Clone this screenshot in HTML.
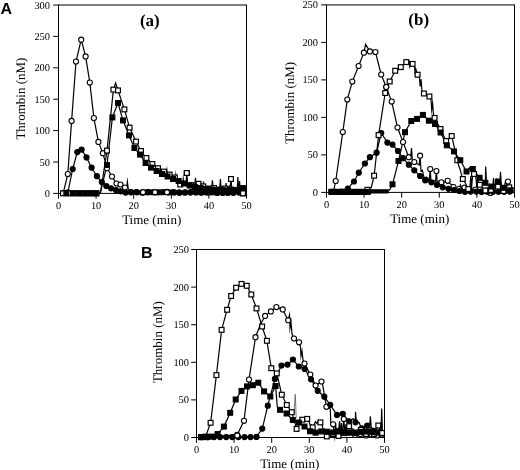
<!DOCTYPE html>
<html><head><meta charset="utf-8"><title>Thrombin generation</title>
<style>
html,body{margin:0;padding:0;background:#fff;}
body{width:520px;height:470px;overflow:hidden;font-family:"Liberation Serif",serif;}
svg{display:block;filter:blur(0.35px);}
text{fill:#000;text-rendering:geometricPrecision;}
</style></head><body>
<svg width="520" height="470" viewBox="0 0 520 470">
<rect x="0" y="0" width="520" height="470" fill="#fff"/>
<rect x="58.5" y="5" width="188" height="188.4" fill="none" stroke="#000" stroke-width="1"/>
<line x1="53.2" y1="193.4" x2="58.5" y2="193.4" stroke="#000" stroke-width="1"/>
<text x="50" y="196.9" font-family='"Liberation Serif", serif' font-size="10.4" text-anchor="end">0</text>
<line x1="53.2" y1="162" x2="58.5" y2="162" stroke="#000" stroke-width="1"/>
<text x="50" y="165.5" font-family='"Liberation Serif", serif' font-size="10.4" text-anchor="end">50</text>
<line x1="53.2" y1="130.6" x2="58.5" y2="130.6" stroke="#000" stroke-width="1"/>
<text x="50" y="134.1" font-family='"Liberation Serif", serif' font-size="10.4" text-anchor="end">100</text>
<line x1="53.2" y1="99.2" x2="58.5" y2="99.2" stroke="#000" stroke-width="1"/>
<text x="50" y="102.7" font-family='"Liberation Serif", serif' font-size="10.4" text-anchor="end">150</text>
<line x1="53.2" y1="67.8" x2="58.5" y2="67.8" stroke="#000" stroke-width="1"/>
<text x="50" y="71.3" font-family='"Liberation Serif", serif' font-size="10.4" text-anchor="end">200</text>
<line x1="53.2" y1="36.4" x2="58.5" y2="36.4" stroke="#000" stroke-width="1"/>
<text x="50" y="39.9" font-family='"Liberation Serif", serif' font-size="10.4" text-anchor="end">250</text>
<line x1="53.2" y1="5" x2="58.5" y2="5" stroke="#000" stroke-width="1"/>
<text x="50" y="8.5" font-family='"Liberation Serif", serif' font-size="10.4" text-anchor="end">300</text>
<line x1="58.5" y1="193.4" x2="58.5" y2="198.7" stroke="#000" stroke-width="1"/>
<text x="58.5" y="209.1" font-family='"Liberation Serif", serif' font-size="10.4" text-anchor="middle">0</text>
<line x1="96.1" y1="193.4" x2="96.1" y2="198.7" stroke="#000" stroke-width="1"/>
<text x="96.1" y="209.1" font-family='"Liberation Serif", serif' font-size="10.4" text-anchor="middle">10</text>
<line x1="133.7" y1="193.4" x2="133.7" y2="198.7" stroke="#000" stroke-width="1"/>
<text x="133.7" y="209.1" font-family='"Liberation Serif", serif' font-size="10.4" text-anchor="middle">20</text>
<line x1="171.3" y1="193.4" x2="171.3" y2="198.7" stroke="#000" stroke-width="1"/>
<text x="171.3" y="209.1" font-family='"Liberation Serif", serif' font-size="10.4" text-anchor="middle">30</text>
<line x1="208.9" y1="193.4" x2="208.9" y2="198.7" stroke="#000" stroke-width="1"/>
<text x="208.9" y="209.1" font-family='"Liberation Serif", serif' font-size="10.4" text-anchor="middle">40</text>
<line x1="246.5" y1="193.4" x2="246.5" y2="198.7" stroke="#000" stroke-width="1"/>
<text x="246.5" y="209.1" font-family='"Liberation Serif", serif' font-size="10.4" text-anchor="middle">50</text>
<text x="151.7" y="223.9" font-family='"Liberation Serif", serif' font-size="13" text-anchor="middle">Time (min)</text>
<text transform="translate(24.5,98.6) rotate(-90)" font-family='"Liberation Serif", serif' font-size="13" text-anchor="middle">Thrombin (nM)</text>
<text x="149.8" y="25.7" font-family='"Liberation Serif", serif' font-size="17" font-weight="bold" text-anchor="middle">(a)</text>
<polyline points="63.3,193 67.8,174 71.6,120.9 76,61.5 81.2,39.7 85.6,56.4 89.8,82.6 93.9,118.1 98.4,141.9 102.9,153.2 107,168.2 112,176.5 116.5,183.5 120.5,184.5 125,187.5 126.6,188.5 127.4,181.7 128.2,188.5 131,192.16 132.5,192.07 134,190.67 135.5,192.67 137,192.25 138.5,192.88 140,191.99 141.5,192.98 143,192.54 144.5,193.03 146,192.03 147.5,192.64 149,192.17 150.5,191.87 152,192.75 153.5,191.92 155,192.21 156.5,191.92 158,190.64 159.5,191.14 161,192.27 162.5,191.98 164,191.84 165.5,191.74 167,191.95 168.5,191.83 170,192.65 171.5,192.05 173,192.21 174.5,192.04 176,192.71 177.5,191.98 179,192.3 180.5,192.15 182,192.74 183.5,192.3 185,192.43 186.5,192.11 188,192 189.5,191.99 191,191.88 192.5,192.48 194,192.13 195.5,191.78 197,192.04 198.5,190.18 200,191.81 201.5,190.44 203,191.87 204.5,191.81 206,192.64 207.5,192.33 209,192.45 210.5,192.35 212,192.24 213.5,192.23 215,192.35 216.5,192.42 218,191.87 219.5,191.63 221,191.83 222.5,192.18 224,192.42 225.5,192.92 227,192.59 228.5,192.2 230,192.62 231.5,192.22 233,192.57 234.5,192.68 236,191.72 237.5,192.97 239,192.32" fill="none" stroke="#000" stroke-width="1.2" stroke-linejoin="miter" stroke-miterlimit="10"/>
<polyline points="63.5,193 67.9,192.3 72.7,169 77.3,152.1 81.6,149.6 86.5,157.4 91.6,167.7 96.9,176.2 101.8,182 106.3,186 111,188.3 116,190 120.8,191.3 125.6,192.59 131,192.23 132.6,192.48 134.2,191.9 135.8,192.1 136.4,192.11 138,192.53 139.6,191.98 141.2,192.56 141.8,192.52 143.4,192.33 145,191.98 146.6,192.53 147.2,192.15 148.8,192.52 150.4,192.6 152,192.19 152.6,192.25 154.2,192.77 155.8,192.29 157.4,192.75 158,192.29 159.6,192.47 161.2,192.38 162.8,191.82 163.4,192.12 165,192.82 166.6,192.66 168.2,192.77 168.8,192.47 170.4,192.51 172,192.14 173.6,192.08 174.2,192.45 175.8,192.63 177.4,192.94 179,192.95 179.6,192.77 181.2,192.55 182.8,192.17 184.4,192.35 185,192.52 186.6,191.19 188.2,192.61 189.8,192.53 190.4,192.61 192,192.38 193.6,192.95 195.2,192.99 195.8,192.5 197.4,192.72 199,192.31 200.6,193.05 201.2,192.63 202.8,192.89 204.4,192.41 206,191.81 206.6,192.47 208.2,192.24 209.8,192.61 211.4,192.25 212,192.32 213.6,193.08 215.2,192.34 216.8,191.52 217.4,192.9 219,191.83 220.6,192.81 222.2,192.52 222.8,192.9 224.4,192.18 226,191.58 227.6,192.53 228.2,192.77 229.8,191.8 231.4,192.94 233,193.09 233.6,192.67 235.2,192.86 236.8,191.77 238.4,192.37 239,192.35" fill="none" stroke="#000" stroke-width="1.2" stroke-linejoin="miter" stroke-miterlimit="10"/>
<polyline points="63,193.3 69.5,193.3 75.8,193.3 81.4,193.3 87,193.3 92.6,193.3 96.6,193.3 100.5,192.5 107,150.6 113.4,89.6 115.6,83 118,90.4 124.4,109.4 129.6,127.6 136,141.6 141,151 146.4,158 152.4,164 158,168.2 163.9,171.6 169.6,174.6 174.9,177.5 180.2,184.5 181.6,185.28 182.5,185 183.2,179 183.9,185 185.9,184.5 186.8,173 187.7,185 189.1,184.22 190.5,185.53 191.2,185.1 192.6,185.78 194,185.81 194.7,186 195.5,177.7 196.3,186 197.7,185.36 198.5,183.8 199.9,181.76 201.3,184.91 202.7,186.41 203.3,186.4 204.7,186.93 206.1,188.25 207.5,188.91 208.5,188.5 209.9,188.75 211.3,186.08 212.7,188.48 214,188 215.4,188.1 216.8,189.63 218.2,189.35 219.5,189.5 220.9,189.13 222.3,189.67 223.7,188.26 225,188.5 226.4,188.73 227.8,188.63 229.2,186.07 230.1,188.5 231,179 231.9,189 233.3,186.94 234.7,188.68 236,190 237.4,189.96 238.8,189.15 240,191 241.4,192.73 243,193.3" fill="none" stroke="#000" stroke-width="1.2" stroke-linejoin="miter" stroke-miterlimit="10"/>
<polyline points="66.3,193.3 72.9,193.3 79,193.3 84.6,193.3 90.2,193.3 95.8,193.3 100.3,193 107,165 112.4,117.4 118,103 123,120.4 129,135.4 134.4,148 140,154.6 145.6,163 151,167.6 156.6,171 162,174 166.4,176.5 167,171 167.6,176.5 167.6,176.5 169,177.97 170.4,178.62 171.8,177.78 173,179 174.4,179.47 175.2,180 175.8,175 176.4,180 177.8,180.99 178.6,181 180,182.31 181.4,182.16 182.8,183.61 184,183.5 185.4,183.71 186.8,185.35 188.2,185.26 189.6,185.5 191,184.28 192.4,186.59 193.8,183.76 195,187 196.4,187.25 197.8,187.74 199.2,188.19 200.6,188 202,186.69 202.9,188.5 203.5,181.5 204.1,188.5 206,189 207.4,189.96 208.8,189.05 210.2,188.97 211.6,189.5 211.6,189.5 212.4,180.3 213.2,189.5 214.6,190.31 216,189.98 217,190 218.4,189.69 219.6,190 220.4,179 221.2,190 222.6,190 224,190.94 225.4,190.3 226,183 226.6,190.3 228,190.5 229.4,188.04 230.8,189.67 232.2,188.06 233.6,190 235,190.05 236.4,189.8 237.1,190.3 237.9,177 238.5,190.5 238.7,190.3 239,190.5 239.6,181 240.2,190.5 241.6,188.88 243,188.1" fill="none" stroke="#000" stroke-width="1.2" stroke-linejoin="miter" stroke-miterlimit="10"/>
<circle cx="63.3" cy="193" r="2.55" fill="#fff" stroke="#000" stroke-width="1.1"/>
<circle cx="67.8" cy="174" r="2.55" fill="#fff" stroke="#000" stroke-width="1.1"/>
<circle cx="71.6" cy="120.9" r="2.55" fill="#fff" stroke="#000" stroke-width="1.1"/>
<circle cx="76" cy="61.5" r="2.55" fill="#fff" stroke="#000" stroke-width="1.1"/>
<circle cx="81.2" cy="39.7" r="2.55" fill="#fff" stroke="#000" stroke-width="1.1"/>
<circle cx="85.6" cy="56.4" r="2.55" fill="#fff" stroke="#000" stroke-width="1.1"/>
<circle cx="89.8" cy="82.6" r="2.55" fill="#fff" stroke="#000" stroke-width="1.1"/>
<circle cx="93.9" cy="118.1" r="2.55" fill="#fff" stroke="#000" stroke-width="1.1"/>
<circle cx="98.4" cy="141.9" r="2.55" fill="#fff" stroke="#000" stroke-width="1.1"/>
<circle cx="102.9" cy="153.2" r="2.55" fill="#fff" stroke="#000" stroke-width="1.1"/>
<circle cx="107" cy="168.2" r="2.55" fill="#fff" stroke="#000" stroke-width="1.1"/>
<circle cx="112" cy="176.5" r="2.55" fill="#fff" stroke="#000" stroke-width="1.1"/>
<circle cx="116.5" cy="183.5" r="2.55" fill="#fff" stroke="#000" stroke-width="1.1"/>
<circle cx="120.5" cy="184.5" r="2.55" fill="#fff" stroke="#000" stroke-width="1.1"/>
<circle cx="125" cy="187.5" r="2.55" fill="#fff" stroke="#000" stroke-width="1.1"/>
<circle cx="131" cy="192.16" r="2.55" fill="#fff" stroke="#000" stroke-width="1.1"/>
<circle cx="137" cy="192.25" r="2.55" fill="#fff" stroke="#000" stroke-width="1.1"/>
<circle cx="143" cy="192.54" r="2.55" fill="#fff" stroke="#000" stroke-width="1.1"/>
<circle cx="149" cy="192.17" r="2.55" fill="#fff" stroke="#000" stroke-width="1.1"/>
<circle cx="155" cy="192.21" r="2.55" fill="#fff" stroke="#000" stroke-width="1.1"/>
<circle cx="161" cy="192.27" r="2.55" fill="#fff" stroke="#000" stroke-width="1.1"/>
<circle cx="167" cy="191.95" r="2.55" fill="#fff" stroke="#000" stroke-width="1.1"/>
<circle cx="173" cy="192.21" r="2.55" fill="#fff" stroke="#000" stroke-width="1.1"/>
<circle cx="179" cy="192.3" r="2.55" fill="#fff" stroke="#000" stroke-width="1.1"/>
<circle cx="185" cy="192.43" r="2.55" fill="#fff" stroke="#000" stroke-width="1.1"/>
<circle cx="191" cy="191.88" r="2.55" fill="#fff" stroke="#000" stroke-width="1.1"/>
<circle cx="197" cy="192.04" r="2.55" fill="#fff" stroke="#000" stroke-width="1.1"/>
<circle cx="203" cy="191.87" r="2.55" fill="#fff" stroke="#000" stroke-width="1.1"/>
<circle cx="209" cy="192.45" r="2.55" fill="#fff" stroke="#000" stroke-width="1.1"/>
<circle cx="215" cy="192.35" r="2.55" fill="#fff" stroke="#000" stroke-width="1.1"/>
<circle cx="221" cy="191.83" r="2.55" fill="#fff" stroke="#000" stroke-width="1.1"/>
<circle cx="227" cy="192.59" r="2.55" fill="#fff" stroke="#000" stroke-width="1.1"/>
<circle cx="233" cy="192.57" r="2.55" fill="#fff" stroke="#000" stroke-width="1.1"/>
<circle cx="239" cy="192.32" r="2.55" fill="#fff" stroke="#000" stroke-width="1.1"/>
<circle cx="63.5" cy="193" r="2.55" fill="#000" stroke="#000" stroke-width="1.1"/>
<circle cx="67.9" cy="192.3" r="2.55" fill="#000" stroke="#000" stroke-width="1.1"/>
<circle cx="72.7" cy="169" r="2.55" fill="#000" stroke="#000" stroke-width="1.1"/>
<circle cx="77.3" cy="152.1" r="2.55" fill="#000" stroke="#000" stroke-width="1.1"/>
<circle cx="81.6" cy="149.6" r="2.55" fill="#000" stroke="#000" stroke-width="1.1"/>
<circle cx="86.5" cy="157.4" r="2.55" fill="#000" stroke="#000" stroke-width="1.1"/>
<circle cx="91.6" cy="167.7" r="2.55" fill="#000" stroke="#000" stroke-width="1.1"/>
<circle cx="96.9" cy="176.2" r="2.55" fill="#000" stroke="#000" stroke-width="1.1"/>
<circle cx="101.8" cy="182" r="2.55" fill="#000" stroke="#000" stroke-width="1.1"/>
<circle cx="106.3" cy="186" r="2.55" fill="#000" stroke="#000" stroke-width="1.1"/>
<circle cx="111" cy="188.3" r="2.55" fill="#000" stroke="#000" stroke-width="1.1"/>
<circle cx="116" cy="190" r="2.55" fill="#000" stroke="#000" stroke-width="1.1"/>
<circle cx="120.8" cy="191.3" r="2.55" fill="#000" stroke="#000" stroke-width="1.1"/>
<circle cx="125.6" cy="192.59" r="2.55" fill="#000" stroke="#000" stroke-width="1.1"/>
<circle cx="131" cy="192.23" r="2.55" fill="#000" stroke="#000" stroke-width="1.1"/>
<circle cx="136.4" cy="192.11" r="2.55" fill="#000" stroke="#000" stroke-width="1.1"/>
<circle cx="141.8" cy="192.52" r="2.55" fill="#000" stroke="#000" stroke-width="1.1"/>
<circle cx="147.2" cy="192.15" r="2.55" fill="#000" stroke="#000" stroke-width="1.1"/>
<circle cx="152.6" cy="192.25" r="2.55" fill="#000" stroke="#000" stroke-width="1.1"/>
<circle cx="158" cy="192.29" r="2.55" fill="#000" stroke="#000" stroke-width="1.1"/>
<circle cx="163.4" cy="192.12" r="2.55" fill="#000" stroke="#000" stroke-width="1.1"/>
<circle cx="168.8" cy="192.47" r="2.55" fill="#000" stroke="#000" stroke-width="1.1"/>
<circle cx="174.2" cy="192.45" r="2.55" fill="#000" stroke="#000" stroke-width="1.1"/>
<circle cx="179.6" cy="192.77" r="2.55" fill="#000" stroke="#000" stroke-width="1.1"/>
<circle cx="185" cy="192.52" r="2.55" fill="#000" stroke="#000" stroke-width="1.1"/>
<circle cx="190.4" cy="192.61" r="2.55" fill="#000" stroke="#000" stroke-width="1.1"/>
<circle cx="195.8" cy="192.5" r="2.55" fill="#000" stroke="#000" stroke-width="1.1"/>
<circle cx="201.2" cy="192.63" r="2.55" fill="#000" stroke="#000" stroke-width="1.1"/>
<circle cx="206.6" cy="192.47" r="2.55" fill="#000" stroke="#000" stroke-width="1.1"/>
<circle cx="212" cy="192.32" r="2.55" fill="#000" stroke="#000" stroke-width="1.1"/>
<circle cx="217.4" cy="192.9" r="2.55" fill="#000" stroke="#000" stroke-width="1.1"/>
<circle cx="222.8" cy="192.9" r="2.55" fill="#000" stroke="#000" stroke-width="1.1"/>
<circle cx="228.2" cy="192.77" r="2.55" fill="#000" stroke="#000" stroke-width="1.1"/>
<circle cx="233.6" cy="192.67" r="2.55" fill="#000" stroke="#000" stroke-width="1.1"/>
<circle cx="239" cy="192.35" r="2.55" fill="#000" stroke="#000" stroke-width="1.1"/>
<rect x="60.6" y="190.9" width="4.8" height="4.8" fill="#fff" stroke="#000" stroke-width="1.2"/>
<rect x="67.1" y="190.9" width="4.8" height="4.8" fill="#fff" stroke="#000" stroke-width="1.2"/>
<rect x="73.4" y="190.9" width="4.8" height="4.8" fill="#fff" stroke="#000" stroke-width="1.2"/>
<rect x="79" y="190.9" width="4.8" height="4.8" fill="#fff" stroke="#000" stroke-width="1.2"/>
<rect x="84.6" y="190.9" width="4.8" height="4.8" fill="#fff" stroke="#000" stroke-width="1.2"/>
<rect x="90.2" y="190.9" width="4.8" height="4.8" fill="#fff" stroke="#000" stroke-width="1.2"/>
<rect x="94.2" y="190.9" width="4.8" height="4.8" fill="#fff" stroke="#000" stroke-width="1.2"/>
<rect x="104.6" y="148.2" width="4.8" height="4.8" fill="#fff" stroke="#000" stroke-width="1.2"/>
<rect x="111" y="87.2" width="4.8" height="4.8" fill="#fff" stroke="#000" stroke-width="1.2"/>
<rect x="115.6" y="88" width="4.8" height="4.8" fill="#fff" stroke="#000" stroke-width="1.2"/>
<rect x="122" y="107" width="4.8" height="4.8" fill="#fff" stroke="#000" stroke-width="1.2"/>
<rect x="127.2" y="125.2" width="4.8" height="4.8" fill="#fff" stroke="#000" stroke-width="1.2"/>
<rect x="133.6" y="139.2" width="4.8" height="4.8" fill="#fff" stroke="#000" stroke-width="1.2"/>
<rect x="138.6" y="148.6" width="4.8" height="4.8" fill="#fff" stroke="#000" stroke-width="1.2"/>
<rect x="144" y="155.6" width="4.8" height="4.8" fill="#fff" stroke="#000" stroke-width="1.2"/>
<rect x="150" y="161.6" width="4.8" height="4.8" fill="#fff" stroke="#000" stroke-width="1.2"/>
<rect x="155.6" y="165.8" width="4.8" height="4.8" fill="#fff" stroke="#000" stroke-width="1.2"/>
<rect x="161.5" y="169.2" width="4.8" height="4.8" fill="#fff" stroke="#000" stroke-width="1.2"/>
<rect x="167.2" y="172.2" width="4.8" height="4.8" fill="#fff" stroke="#000" stroke-width="1.2"/>
<rect x="172.5" y="175.1" width="4.8" height="4.8" fill="#fff" stroke="#000" stroke-width="1.2"/>
<rect x="177.8" y="182.1" width="4.8" height="4.8" fill="#fff" stroke="#000" stroke-width="1.2"/>
<rect x="184.4" y="170.6" width="4.8" height="4.8" fill="#fff" stroke="#000" stroke-width="1.2"/>
<rect x="188.8" y="182.7" width="4.8" height="4.8" fill="#fff" stroke="#000" stroke-width="1.2"/>
<rect x="196.1" y="181.4" width="4.8" height="4.8" fill="#fff" stroke="#000" stroke-width="1.2"/>
<rect x="200.9" y="184" width="4.8" height="4.8" fill="#fff" stroke="#000" stroke-width="1.2"/>
<rect x="206.1" y="186.1" width="4.8" height="4.8" fill="#fff" stroke="#000" stroke-width="1.2"/>
<rect x="211.6" y="185.6" width="4.8" height="4.8" fill="#fff" stroke="#000" stroke-width="1.2"/>
<rect x="217.1" y="187.1" width="4.8" height="4.8" fill="#fff" stroke="#000" stroke-width="1.2"/>
<rect x="222.6" y="186.1" width="4.8" height="4.8" fill="#fff" stroke="#000" stroke-width="1.2"/>
<rect x="228.6" y="176.6" width="4.8" height="4.8" fill="#fff" stroke="#000" stroke-width="1.2"/>
<rect x="233.6" y="187.6" width="4.8" height="4.8" fill="#fff" stroke="#000" stroke-width="1.2"/>
<rect x="237.6" y="188.6" width="4.8" height="4.8" fill="#fff" stroke="#000" stroke-width="1.2"/>
<rect x="240.6" y="190.9" width="4.8" height="4.8" fill="#fff" stroke="#000" stroke-width="1.2"/>
<rect x="63.9" y="190.9" width="4.8" height="4.8" fill="#000" stroke="#000" stroke-width="1.2"/>
<rect x="70.5" y="190.9" width="4.8" height="4.8" fill="#000" stroke="#000" stroke-width="1.2"/>
<rect x="76.6" y="190.9" width="4.8" height="4.8" fill="#000" stroke="#000" stroke-width="1.2"/>
<rect x="82.2" y="190.9" width="4.8" height="4.8" fill="#000" stroke="#000" stroke-width="1.2"/>
<rect x="87.8" y="190.9" width="4.8" height="4.8" fill="#000" stroke="#000" stroke-width="1.2"/>
<rect x="93.4" y="190.9" width="4.8" height="4.8" fill="#000" stroke="#000" stroke-width="1.2"/>
<rect x="104.6" y="162.6" width="4.8" height="4.8" fill="#000" stroke="#000" stroke-width="1.2"/>
<rect x="110" y="115" width="4.8" height="4.8" fill="#000" stroke="#000" stroke-width="1.2"/>
<rect x="115.6" y="100.6" width="4.8" height="4.8" fill="#000" stroke="#000" stroke-width="1.2"/>
<rect x="120.6" y="118" width="4.8" height="4.8" fill="#000" stroke="#000" stroke-width="1.2"/>
<rect x="126.6" y="133" width="4.8" height="4.8" fill="#000" stroke="#000" stroke-width="1.2"/>
<rect x="132" y="145.6" width="4.8" height="4.8" fill="#000" stroke="#000" stroke-width="1.2"/>
<rect x="137.6" y="152.2" width="4.8" height="4.8" fill="#000" stroke="#000" stroke-width="1.2"/>
<rect x="143.2" y="160.6" width="4.8" height="4.8" fill="#000" stroke="#000" stroke-width="1.2"/>
<rect x="148.6" y="165.2" width="4.8" height="4.8" fill="#000" stroke="#000" stroke-width="1.2"/>
<rect x="154.2" y="168.6" width="4.8" height="4.8" fill="#000" stroke="#000" stroke-width="1.2"/>
<rect x="159.6" y="171.6" width="4.8" height="4.8" fill="#000" stroke="#000" stroke-width="1.2"/>
<rect x="165.2" y="174.1" width="4.8" height="4.8" fill="#000" stroke="#000" stroke-width="1.2"/>
<rect x="170.6" y="176.6" width="4.8" height="4.8" fill="#000" stroke="#000" stroke-width="1.2"/>
<rect x="176.2" y="178.6" width="4.8" height="4.8" fill="#000" stroke="#000" stroke-width="1.2"/>
<rect x="181.6" y="181.1" width="4.8" height="4.8" fill="#000" stroke="#000" stroke-width="1.2"/>
<rect x="187.2" y="183.1" width="4.8" height="4.8" fill="#000" stroke="#000" stroke-width="1.2"/>
<rect x="192.6" y="184.6" width="4.8" height="4.8" fill="#000" stroke="#000" stroke-width="1.2"/>
<rect x="198.2" y="185.6" width="4.8" height="4.8" fill="#000" stroke="#000" stroke-width="1.2"/>
<rect x="203.6" y="186.6" width="4.8" height="4.8" fill="#000" stroke="#000" stroke-width="1.2"/>
<rect x="209.2" y="187.1" width="4.8" height="4.8" fill="#000" stroke="#000" stroke-width="1.2"/>
<rect x="214.6" y="187.6" width="4.8" height="4.8" fill="#000" stroke="#000" stroke-width="1.2"/>
<rect x="220.2" y="187.6" width="4.8" height="4.8" fill="#000" stroke="#000" stroke-width="1.2"/>
<rect x="225.6" y="188.1" width="4.8" height="4.8" fill="#000" stroke="#000" stroke-width="1.2"/>
<rect x="231.2" y="187.6" width="4.8" height="4.8" fill="#000" stroke="#000" stroke-width="1.2"/>
<rect x="236.1" y="188.1" width="4.8" height="4.8" fill="#000" stroke="#000" stroke-width="1.2"/>
<rect x="240.6" y="185.7" width="4.8" height="4.8" fill="#000" stroke="#000" stroke-width="1.2"/>
<circle cx="143" cy="192.2" r="2.55" fill="#fff" stroke="#000" stroke-width="1.1"/>
<circle cx="155" cy="192.3" r="2.55" fill="#fff" stroke="#000" stroke-width="1.1"/>
<circle cx="167" cy="192.2" r="2.55" fill="#fff" stroke="#000" stroke-width="1.1"/>
<rect x="184.4" y="170.6" width="4.8" height="4.8" fill="#fff" stroke="#000" stroke-width="1.2"/>
<rect x="228.6" y="176.6" width="4.8" height="4.8" fill="#fff" stroke="#000" stroke-width="1.2"/>
<rect x="240.6" y="190.9" width="4.8" height="4.8" fill="#fff" stroke="#000" stroke-width="1.2"/>
<rect x="326.5" y="4.9" width="188" height="187.5" fill="none" stroke="#000" stroke-width="1"/>
<line x1="321.2" y1="192.4" x2="326.5" y2="192.4" stroke="#000" stroke-width="1"/>
<text x="318" y="195.9" font-family='"Liberation Serif", serif' font-size="10.4" text-anchor="end">0</text>
<line x1="321.2" y1="154.9" x2="326.5" y2="154.9" stroke="#000" stroke-width="1"/>
<text x="318" y="158.4" font-family='"Liberation Serif", serif' font-size="10.4" text-anchor="end">50</text>
<line x1="321.2" y1="117.4" x2="326.5" y2="117.4" stroke="#000" stroke-width="1"/>
<text x="318" y="120.9" font-family='"Liberation Serif", serif' font-size="10.4" text-anchor="end">100</text>
<line x1="321.2" y1="79.9" x2="326.5" y2="79.9" stroke="#000" stroke-width="1"/>
<text x="318" y="83.4" font-family='"Liberation Serif", serif' font-size="10.4" text-anchor="end">150</text>
<line x1="321.2" y1="42.4" x2="326.5" y2="42.4" stroke="#000" stroke-width="1"/>
<text x="318" y="45.9" font-family='"Liberation Serif", serif' font-size="10.4" text-anchor="end">200</text>
<line x1="321.2" y1="4.9" x2="326.5" y2="4.9" stroke="#000" stroke-width="1"/>
<text x="318" y="8.4" font-family='"Liberation Serif", serif' font-size="10.4" text-anchor="end">250</text>
<line x1="326.5" y1="192.4" x2="326.5" y2="197.7" stroke="#000" stroke-width="1"/>
<text x="326.5" y="208.1" font-family='"Liberation Serif", serif' font-size="10.4" text-anchor="middle">0</text>
<line x1="364.1" y1="192.4" x2="364.1" y2="197.7" stroke="#000" stroke-width="1"/>
<text x="364.1" y="208.1" font-family='"Liberation Serif", serif' font-size="10.4" text-anchor="middle">10</text>
<line x1="401.7" y1="192.4" x2="401.7" y2="197.7" stroke="#000" stroke-width="1"/>
<text x="401.7" y="208.1" font-family='"Liberation Serif", serif' font-size="10.4" text-anchor="middle">20</text>
<line x1="439.3" y1="192.4" x2="439.3" y2="197.7" stroke="#000" stroke-width="1"/>
<text x="439.3" y="208.1" font-family='"Liberation Serif", serif' font-size="10.4" text-anchor="middle">30</text>
<line x1="476.9" y1="192.4" x2="476.9" y2="197.7" stroke="#000" stroke-width="1"/>
<text x="476.9" y="208.1" font-family='"Liberation Serif", serif' font-size="10.4" text-anchor="middle">40</text>
<line x1="514.5" y1="192.4" x2="514.5" y2="197.7" stroke="#000" stroke-width="1"/>
<text x="514.5" y="208.1" font-family='"Liberation Serif", serif' font-size="10.4" text-anchor="middle">50</text>
<text x="419.7" y="222.9" font-family='"Liberation Serif", serif' font-size="13" text-anchor="middle">Time (min)</text>
<text transform="translate(293.8,102.85) rotate(-90)" font-family='"Liberation Serif", serif' font-size="13" text-anchor="middle">Thrombin (nM)</text>
<text x="418.7" y="24.5" font-family='"Liberation Serif", serif' font-size="17" font-weight="bold" text-anchor="middle">(b)</text>
<polyline points="331.8,191.9 333.6,191 335.7,181 342.8,132.1 347.3,99.6 352.3,81.6 358.6,66 363.9,52.7 365.6,44.4 369.9,51.4 375.4,52 381.2,74.5 386.2,87 391.7,101.6 397.5,127.5 403,142 408.8,157.2 410.6,158 411.5,148 412.3,160 414.3,162 419.2,165 420.1,155.7 421,171 422.4,170.18 423.8,176.82 425.1,180.3 426.5,177.3 427.9,179.72 429.4,180 430.2,169 431,181 432.4,181.04 433.8,180.45 435.2,181.57 435.6,181 436.4,171 437.2,182 438.6,181.3 440,183.22 441.4,182.3 442.8,181.4 444.2,182.35 445.6,181.87 447,180.68 447.7,180.8 449.1,182.15 450.5,184.02 451.9,184.78 453.5,187 454.9,186.69 456.3,189.2 457.7,187.92 459,189 460.4,184.81 461.8,188.97 463.2,187.99 464.5,187.5 465.9,188.32 467.3,188.25 468.7,190.68 470,190.5 471.4,188.43 472.8,190 474.2,189.08 475.5,189.5 476.9,189.24 478.3,191.32 479.7,191.95 481,191.5 482.4,191.25 483.8,191.2 485.2,191.55 486.5,190.5 487.9,187.75 489.3,193.05 490.4,193 491.8,192.27 493.2,192.47 494.6,191.51 496,190.04 497,189.5 498.4,189.1 499.8,190.15 501.2,188.84 502.5,190.5 503.9,188.68 505.3,182.19 506.7,183.58 508,181.6 509.4,184.88 510.8,187.46 512,190" fill="none" stroke="#000" stroke-width="1.2" stroke-linejoin="miter" stroke-miterlimit="10"/>
<polyline points="331.8,191.9 335.5,191.9 341.5,191.6 347.8,188.5 354,181.5 358.8,172.7 364.9,163.5 369.9,157.2 376.6,152.7 381.2,133 387.4,142.6 392.5,144.6 398,151 403,158.2 408.8,164.7 414.3,170.3 420.1,176 425.9,179.8 431.4,182.3 436.9,184.8 442.7,187.3 448.5,188.8 450.1,189.39 451.7,189.86 453.3,189.47 454,190 455.6,190.63 457.2,190.58 458.8,190.58 459.5,191 461.1,190.93 462.7,191.98 464.3,191.81 465,191.81 466.6,191.92 468.2,191.93 469.8,191.31 470.6,191.6 472.2,191.95 473.8,190.18 475.4,190.86 476.2,191.56 477.8,190.89 479.4,191.37 481,191.81 481.8,191.82 483.4,192 485,191.67 486.6,191.92 487.4,191.75 489,192.05 490.6,191.34 492.2,191.35 493,191.7 494.6,190.58 496.2,192.22 497.8,191.38 498.6,191.73 500.2,192.3 501.8,190.43 503.4,191.89 504.2,191.82 505.8,191.58 507.4,192.19 509,191.64 509.8,191.53" fill="none" stroke="#000" stroke-width="1.2" stroke-linejoin="miter" stroke-miterlimit="10"/>
<polyline points="331.5,191.9 337.5,191.9 343.5,191.9 349.5,191.9 355.5,191.9 361.5,191.9 367.4,189.8 371.3,187.5 374.1,175.7 378.6,135.1 385.2,93 389.7,81.5 395.2,70.8 400.8,67.1 406.3,62.1 409,61 409.6,66 410.3,62.5 412.6,63.9 414.5,66 415,72 415.8,69 417.6,74.7 419.3,76.5 420.2,86.5 421,79 422,91 423.9,93.5 429.4,96.5 431,99 431.7,109.5 432.6,103 433.6,116 434.6,117.9 440.5,129 446.1,141 451.7,136 457.3,160.2 458.7,165.82 460.1,169.2 461.5,174.67 462.8,179 464.2,181.23 465.6,183.54 467,187.17 468.3,189 470,186 470.8,176 471.6,188 472.6,175 474,174 476,178 476.8,188 477.8,177 478.6,186 479.8,184.8 481.2,185.95 482.6,187.69 484,189.34 485.4,190.5 486.8,191.48 488.2,189.93 489.6,184.77 491,190 492.4,189.77 493.8,188.38 495.2,188.29 496.6,187.75 498,186.6 499.4,187.3 500.8,182.96 502.2,190.92 503.5,191 504.9,189.73 506.3,186.63 507.7,187.68 509.2,187.3" fill="none" stroke="#000" stroke-width="1.2" stroke-linejoin="miter" stroke-miterlimit="10"/>
<polyline points="331.5,191.9 336.7,191.9 341.9,191.9 347.1,191.9 352.3,191.9 357.5,191.9 362.7,191.9 367.9,191.9 387.5,191.6 390,189.3 392.5,184.3 398.5,161 405,132.2 411.3,121 417.1,118.9 422.9,114.9 428.9,120.7 435,124 440.6,132.5 446.8,145.3 454,151.4 460.3,160.2 466.5,171.5 467.9,170.29 469.3,167.68 470.7,170.3 472.1,169.43 472.8,169 474.2,169.44 475.6,173.5 477,173.96 478.4,176.69 479.6,177.8 481,178.67 482.4,180 483.8,181.46 484.9,182.5 485.4,182.8 485.7,166.5 486.5,182.5 487.9,184.8 489.3,185.05 490.7,186.92 491.6,186.6 492.9,186 493.5,178 494.1,186 495.5,184.32 496.9,179.26 497.9,181.6 499.7,185 500.5,171.9 501.3,185 502.7,186.02 504.2,187.8 505.6,188.73 506.4,189 507,180 507.6,189 509,189.43 510.5,190.3" fill="none" stroke="#000" stroke-width="1.2" stroke-linejoin="miter" stroke-miterlimit="10"/>
<circle cx="331.8" cy="191.9" r="2.55" fill="#fff" stroke="#000" stroke-width="1.1"/>
<circle cx="335.7" cy="181" r="2.55" fill="#fff" stroke="#000" stroke-width="1.1"/>
<circle cx="342.8" cy="132.1" r="2.55" fill="#fff" stroke="#000" stroke-width="1.1"/>
<circle cx="347.3" cy="99.6" r="2.55" fill="#fff" stroke="#000" stroke-width="1.1"/>
<circle cx="352.3" cy="81.6" r="2.55" fill="#fff" stroke="#000" stroke-width="1.1"/>
<circle cx="358.6" cy="66" r="2.55" fill="#fff" stroke="#000" stroke-width="1.1"/>
<circle cx="363.9" cy="52.7" r="2.55" fill="#fff" stroke="#000" stroke-width="1.1"/>
<circle cx="369.9" cy="51.4" r="2.55" fill="#fff" stroke="#000" stroke-width="1.1"/>
<circle cx="375.4" cy="52" r="2.55" fill="#fff" stroke="#000" stroke-width="1.1"/>
<circle cx="381.2" cy="74.5" r="2.55" fill="#fff" stroke="#000" stroke-width="1.1"/>
<circle cx="386.2" cy="87" r="2.55" fill="#fff" stroke="#000" stroke-width="1.1"/>
<circle cx="391.7" cy="101.6" r="2.55" fill="#fff" stroke="#000" stroke-width="1.1"/>
<circle cx="397.5" cy="127.5" r="2.55" fill="#fff" stroke="#000" stroke-width="1.1"/>
<circle cx="403" cy="142" r="2.55" fill="#fff" stroke="#000" stroke-width="1.1"/>
<circle cx="408.8" cy="157.2" r="2.55" fill="#fff" stroke="#000" stroke-width="1.1"/>
<circle cx="414.3" cy="162" r="2.55" fill="#fff" stroke="#000" stroke-width="1.1"/>
<circle cx="420.1" cy="155.7" r="2.55" fill="#fff" stroke="#000" stroke-width="1.1"/>
<circle cx="425.1" cy="180.3" r="2.55" fill="#fff" stroke="#000" stroke-width="1.1"/>
<circle cx="430.2" cy="169" r="2.55" fill="#fff" stroke="#000" stroke-width="1.1"/>
<circle cx="436.4" cy="171" r="2.55" fill="#fff" stroke="#000" stroke-width="1.1"/>
<circle cx="441.4" cy="182.3" r="2.55" fill="#fff" stroke="#000" stroke-width="1.1"/>
<circle cx="447.7" cy="180.8" r="2.55" fill="#fff" stroke="#000" stroke-width="1.1"/>
<circle cx="453.5" cy="187" r="2.55" fill="#fff" stroke="#000" stroke-width="1.1"/>
<circle cx="459" cy="189" r="2.55" fill="#fff" stroke="#000" stroke-width="1.1"/>
<circle cx="464.5" cy="187.5" r="2.55" fill="#fff" stroke="#000" stroke-width="1.1"/>
<circle cx="470" cy="190.5" r="2.55" fill="#fff" stroke="#000" stroke-width="1.1"/>
<circle cx="475.5" cy="189.5" r="2.55" fill="#fff" stroke="#000" stroke-width="1.1"/>
<circle cx="481" cy="191.5" r="2.55" fill="#fff" stroke="#000" stroke-width="1.1"/>
<circle cx="486.5" cy="190.5" r="2.55" fill="#fff" stroke="#000" stroke-width="1.1"/>
<circle cx="490.4" cy="193" r="2.55" fill="#fff" stroke="#000" stroke-width="1.1"/>
<circle cx="497" cy="189.5" r="2.55" fill="#fff" stroke="#000" stroke-width="1.1"/>
<circle cx="502.5" cy="190.5" r="2.55" fill="#fff" stroke="#000" stroke-width="1.1"/>
<circle cx="508" cy="181.6" r="2.55" fill="#fff" stroke="#000" stroke-width="1.1"/>
<circle cx="512" cy="190" r="2.55" fill="#fff" stroke="#000" stroke-width="1.1"/>
<circle cx="331.8" cy="191.9" r="2.55" fill="#000" stroke="#000" stroke-width="1.1"/>
<circle cx="335.5" cy="191.9" r="2.55" fill="#000" stroke="#000" stroke-width="1.1"/>
<circle cx="341.5" cy="191.6" r="2.55" fill="#000" stroke="#000" stroke-width="1.1"/>
<circle cx="347.8" cy="188.5" r="2.55" fill="#000" stroke="#000" stroke-width="1.1"/>
<circle cx="354" cy="181.5" r="2.55" fill="#000" stroke="#000" stroke-width="1.1"/>
<circle cx="358.8" cy="172.7" r="2.55" fill="#000" stroke="#000" stroke-width="1.1"/>
<circle cx="364.9" cy="163.5" r="2.55" fill="#000" stroke="#000" stroke-width="1.1"/>
<circle cx="369.9" cy="157.2" r="2.55" fill="#000" stroke="#000" stroke-width="1.1"/>
<circle cx="376.6" cy="152.7" r="2.55" fill="#000" stroke="#000" stroke-width="1.1"/>
<circle cx="381.2" cy="133" r="2.55" fill="#000" stroke="#000" stroke-width="1.1"/>
<circle cx="387.4" cy="142.6" r="2.55" fill="#000" stroke="#000" stroke-width="1.1"/>
<circle cx="392.5" cy="144.6" r="2.55" fill="#000" stroke="#000" stroke-width="1.1"/>
<circle cx="398" cy="151" r="2.55" fill="#000" stroke="#000" stroke-width="1.1"/>
<circle cx="403" cy="158.2" r="2.55" fill="#000" stroke="#000" stroke-width="1.1"/>
<circle cx="408.8" cy="164.7" r="2.55" fill="#000" stroke="#000" stroke-width="1.1"/>
<circle cx="414.3" cy="170.3" r="2.55" fill="#000" stroke="#000" stroke-width="1.1"/>
<circle cx="420.1" cy="176" r="2.55" fill="#000" stroke="#000" stroke-width="1.1"/>
<circle cx="425.9" cy="179.8" r="2.55" fill="#000" stroke="#000" stroke-width="1.1"/>
<circle cx="431.4" cy="182.3" r="2.55" fill="#000" stroke="#000" stroke-width="1.1"/>
<circle cx="436.9" cy="184.8" r="2.55" fill="#000" stroke="#000" stroke-width="1.1"/>
<circle cx="442.7" cy="187.3" r="2.55" fill="#000" stroke="#000" stroke-width="1.1"/>
<circle cx="448.5" cy="188.8" r="2.55" fill="#000" stroke="#000" stroke-width="1.1"/>
<circle cx="454" cy="190" r="2.55" fill="#000" stroke="#000" stroke-width="1.1"/>
<circle cx="459.5" cy="191" r="2.55" fill="#000" stroke="#000" stroke-width="1.1"/>
<circle cx="465" cy="191.81" r="2.55" fill="#000" stroke="#000" stroke-width="1.1"/>
<circle cx="470.6" cy="191.6" r="2.55" fill="#000" stroke="#000" stroke-width="1.1"/>
<circle cx="476.2" cy="191.56" r="2.55" fill="#000" stroke="#000" stroke-width="1.1"/>
<circle cx="481.8" cy="191.82" r="2.55" fill="#000" stroke="#000" stroke-width="1.1"/>
<circle cx="487.4" cy="191.75" r="2.55" fill="#000" stroke="#000" stroke-width="1.1"/>
<circle cx="493" cy="191.7" r="2.55" fill="#000" stroke="#000" stroke-width="1.1"/>
<circle cx="498.6" cy="191.73" r="2.55" fill="#000" stroke="#000" stroke-width="1.1"/>
<circle cx="504.2" cy="191.82" r="2.55" fill="#000" stroke="#000" stroke-width="1.1"/>
<circle cx="509.8" cy="191.53" r="2.55" fill="#000" stroke="#000" stroke-width="1.1"/>
<rect x="329.1" y="189.5" width="4.8" height="4.8" fill="#fff" stroke="#000" stroke-width="1.2"/>
<rect x="335.1" y="189.5" width="4.8" height="4.8" fill="#fff" stroke="#000" stroke-width="1.2"/>
<rect x="341.1" y="189.5" width="4.8" height="4.8" fill="#fff" stroke="#000" stroke-width="1.2"/>
<rect x="347.1" y="189.5" width="4.8" height="4.8" fill="#fff" stroke="#000" stroke-width="1.2"/>
<rect x="353.1" y="189.5" width="4.8" height="4.8" fill="#fff" stroke="#000" stroke-width="1.2"/>
<rect x="359.1" y="189.5" width="4.8" height="4.8" fill="#fff" stroke="#000" stroke-width="1.2"/>
<rect x="365" y="187.4" width="4.8" height="4.8" fill="#fff" stroke="#000" stroke-width="1.2"/>
<rect x="371.7" y="173.3" width="4.8" height="4.8" fill="#fff" stroke="#000" stroke-width="1.2"/>
<rect x="376.2" y="132.7" width="4.8" height="4.8" fill="#fff" stroke="#000" stroke-width="1.2"/>
<rect x="382.8" y="90.6" width="4.8" height="4.8" fill="#fff" stroke="#000" stroke-width="1.2"/>
<rect x="387.3" y="79.1" width="4.8" height="4.8" fill="#fff" stroke="#000" stroke-width="1.2"/>
<rect x="392.8" y="68.4" width="4.8" height="4.8" fill="#fff" stroke="#000" stroke-width="1.2"/>
<rect x="398.4" y="64.7" width="4.8" height="4.8" fill="#fff" stroke="#000" stroke-width="1.2"/>
<rect x="403.9" y="59.7" width="4.8" height="4.8" fill="#fff" stroke="#000" stroke-width="1.2"/>
<rect x="410.2" y="61.5" width="4.8" height="4.8" fill="#fff" stroke="#000" stroke-width="1.2"/>
<rect x="415.2" y="72.3" width="4.8" height="4.8" fill="#fff" stroke="#000" stroke-width="1.2"/>
<rect x="421.5" y="91.1" width="4.8" height="4.8" fill="#fff" stroke="#000" stroke-width="1.2"/>
<rect x="427" y="94.1" width="4.8" height="4.8" fill="#fff" stroke="#000" stroke-width="1.2"/>
<rect x="432.2" y="115.5" width="4.8" height="4.8" fill="#fff" stroke="#000" stroke-width="1.2"/>
<rect x="438.1" y="126.6" width="4.8" height="4.8" fill="#fff" stroke="#000" stroke-width="1.2"/>
<rect x="443.7" y="138.6" width="4.8" height="4.8" fill="#fff" stroke="#000" stroke-width="1.2"/>
<rect x="449.3" y="133.6" width="4.8" height="4.8" fill="#fff" stroke="#000" stroke-width="1.2"/>
<rect x="454.9" y="157.8" width="4.8" height="4.8" fill="#fff" stroke="#000" stroke-width="1.2"/>
<rect x="460.4" y="176.6" width="4.8" height="4.8" fill="#fff" stroke="#000" stroke-width="1.2"/>
<rect x="465.9" y="186.6" width="4.8" height="4.8" fill="#fff" stroke="#000" stroke-width="1.2"/>
<rect x="471.6" y="171.6" width="4.8" height="4.8" fill="#fff" stroke="#000" stroke-width="1.2"/>
<rect x="477.4" y="182.4" width="4.8" height="4.8" fill="#fff" stroke="#000" stroke-width="1.2"/>
<rect x="483" y="188.1" width="4.8" height="4.8" fill="#fff" stroke="#000" stroke-width="1.2"/>
<rect x="488.6" y="187.6" width="4.8" height="4.8" fill="#fff" stroke="#000" stroke-width="1.2"/>
<rect x="495.6" y="184.2" width="4.8" height="4.8" fill="#fff" stroke="#000" stroke-width="1.2"/>
<rect x="501.1" y="188.6" width="4.8" height="4.8" fill="#fff" stroke="#000" stroke-width="1.2"/>
<rect x="506.8" y="184.9" width="4.8" height="4.8" fill="#fff" stroke="#000" stroke-width="1.2"/>
<rect x="329.1" y="189.5" width="4.8" height="4.8" fill="#000" stroke="#000" stroke-width="1.2"/>
<rect x="334.3" y="189.5" width="4.8" height="4.8" fill="#000" stroke="#000" stroke-width="1.2"/>
<rect x="339.5" y="189.5" width="4.8" height="4.8" fill="#000" stroke="#000" stroke-width="1.2"/>
<rect x="344.7" y="189.5" width="4.8" height="4.8" fill="#000" stroke="#000" stroke-width="1.2"/>
<rect x="349.9" y="189.5" width="4.8" height="4.8" fill="#000" stroke="#000" stroke-width="1.2"/>
<rect x="355.1" y="189.5" width="4.8" height="4.8" fill="#000" stroke="#000" stroke-width="1.2"/>
<rect x="360.3" y="189.5" width="4.8" height="4.8" fill="#000" stroke="#000" stroke-width="1.2"/>
<rect x="365.5" y="189.5" width="4.8" height="4.8" fill="#000" stroke="#000" stroke-width="1.2"/>
<rect x="390.1" y="181.9" width="4.8" height="4.8" fill="#000" stroke="#000" stroke-width="1.2"/>
<rect x="396.1" y="158.6" width="4.8" height="4.8" fill="#000" stroke="#000" stroke-width="1.2"/>
<rect x="402.6" y="129.8" width="4.8" height="4.8" fill="#000" stroke="#000" stroke-width="1.2"/>
<rect x="408.9" y="118.6" width="4.8" height="4.8" fill="#000" stroke="#000" stroke-width="1.2"/>
<rect x="414.7" y="116.5" width="4.8" height="4.8" fill="#000" stroke="#000" stroke-width="1.2"/>
<rect x="420.5" y="112.5" width="4.8" height="4.8" fill="#000" stroke="#000" stroke-width="1.2"/>
<rect x="426.5" y="118.3" width="4.8" height="4.8" fill="#000" stroke="#000" stroke-width="1.2"/>
<rect x="432.6" y="121.6" width="4.8" height="4.8" fill="#000" stroke="#000" stroke-width="1.2"/>
<rect x="438.2" y="130.1" width="4.8" height="4.8" fill="#000" stroke="#000" stroke-width="1.2"/>
<rect x="444.4" y="142.9" width="4.8" height="4.8" fill="#000" stroke="#000" stroke-width="1.2"/>
<rect x="451.6" y="149" width="4.8" height="4.8" fill="#000" stroke="#000" stroke-width="1.2"/>
<rect x="457.9" y="157.8" width="4.8" height="4.8" fill="#000" stroke="#000" stroke-width="1.2"/>
<rect x="464.1" y="169.1" width="4.8" height="4.8" fill="#000" stroke="#000" stroke-width="1.2"/>
<rect x="470.4" y="166.6" width="4.8" height="4.8" fill="#000" stroke="#000" stroke-width="1.2"/>
<rect x="477.2" y="175.4" width="4.8" height="4.8" fill="#000" stroke="#000" stroke-width="1.2"/>
<rect x="483" y="180.4" width="4.8" height="4.8" fill="#000" stroke="#000" stroke-width="1.2"/>
<rect x="489.2" y="184.2" width="4.8" height="4.8" fill="#000" stroke="#000" stroke-width="1.2"/>
<rect x="495.5" y="179.2" width="4.8" height="4.8" fill="#000" stroke="#000" stroke-width="1.2"/>
<rect x="501.8" y="185.4" width="4.8" height="4.8" fill="#000" stroke="#000" stroke-width="1.2"/>
<rect x="508.1" y="187.9" width="4.8" height="4.8" fill="#000" stroke="#000" stroke-width="1.2"/>
<circle cx="386.2" cy="87" r="2.55" fill="#fff" stroke="#000" stroke-width="1.1"/>
<rect x="369" y="189.2" width="19.5" height="4.3" fill="#000"/>
<rect x="196.5" y="249.5" width="188" height="188" fill="none" stroke="#000" stroke-width="1"/>
<line x1="191.2" y1="437.5" x2="196.5" y2="437.5" stroke="#000" stroke-width="1"/>
<text x="189" y="441" font-family='"Liberation Serif", serif' font-size="10.4" text-anchor="end">0</text>
<line x1="191.2" y1="399.9" x2="196.5" y2="399.9" stroke="#000" stroke-width="1"/>
<text x="189" y="403.4" font-family='"Liberation Serif", serif' font-size="10.4" text-anchor="end">50</text>
<line x1="191.2" y1="362.3" x2="196.5" y2="362.3" stroke="#000" stroke-width="1"/>
<text x="189" y="365.8" font-family='"Liberation Serif", serif' font-size="10.4" text-anchor="end">100</text>
<line x1="191.2" y1="324.7" x2="196.5" y2="324.7" stroke="#000" stroke-width="1"/>
<text x="189" y="328.2" font-family='"Liberation Serif", serif' font-size="10.4" text-anchor="end">150</text>
<line x1="191.2" y1="287.1" x2="196.5" y2="287.1" stroke="#000" stroke-width="1"/>
<text x="189" y="290.6" font-family='"Liberation Serif", serif' font-size="10.4" text-anchor="end">200</text>
<line x1="191.2" y1="249.5" x2="196.5" y2="249.5" stroke="#000" stroke-width="1"/>
<text x="189" y="253" font-family='"Liberation Serif", serif' font-size="10.4" text-anchor="end">250</text>
<line x1="196.5" y1="437.5" x2="196.5" y2="442.8" stroke="#000" stroke-width="1"/>
<text x="196.5" y="453.2" font-family='"Liberation Serif", serif' font-size="10.4" text-anchor="middle">0</text>
<line x1="234.1" y1="437.5" x2="234.1" y2="442.8" stroke="#000" stroke-width="1"/>
<text x="234.1" y="453.2" font-family='"Liberation Serif", serif' font-size="10.4" text-anchor="middle">10</text>
<line x1="271.7" y1="437.5" x2="271.7" y2="442.8" stroke="#000" stroke-width="1"/>
<text x="271.7" y="453.2" font-family='"Liberation Serif", serif' font-size="10.4" text-anchor="middle">20</text>
<line x1="309.3" y1="437.5" x2="309.3" y2="442.8" stroke="#000" stroke-width="1"/>
<text x="309.3" y="453.2" font-family='"Liberation Serif", serif' font-size="10.4" text-anchor="middle">30</text>
<line x1="346.9" y1="437.5" x2="346.9" y2="442.8" stroke="#000" stroke-width="1"/>
<text x="346.9" y="453.2" font-family='"Liberation Serif", serif' font-size="10.4" text-anchor="middle">40</text>
<line x1="384.5" y1="437.5" x2="384.5" y2="442.8" stroke="#000" stroke-width="1"/>
<text x="384.5" y="453.2" font-family='"Liberation Serif", serif' font-size="10.4" text-anchor="middle">50</text>
<text x="289.7" y="468" font-family='"Liberation Serif", serif' font-size="13" text-anchor="middle">Time (min)</text>
<text transform="translate(161.8,342.1) rotate(-90)" font-family='"Liberation Serif", serif' font-size="13" text-anchor="middle">Thrombin (nM)</text>
<polyline points="201,437.1 206.6,437.1 237.2,434.9 244,420.8 249,379.6 255.5,337.2 260.3,324.5 265.1,315.9 270.9,311.4 276.4,307.1 282.7,309.4 288.2,320.2 289.5,315 290,328 291,322 292,334 294,338.5 299,342.3 300.5,347 301,356 302,351 303,360 304.5,363.5 310.3,374.6 315.6,385.6 321.5,381.5 322.5,384 326.4,406.8 330.3,409 330.8,423 333.1,424.3 334.5,436 335.6,423 336.6,436 338.5,431 339.6,421 340.5,436 341.4,423 342.4,435 343.8,419.1 345,434 346,424 347,435 348.4,433.03 349.5,432.5 350.9,433.47 352.3,434.85 353.7,434.49 355,435 356.4,434.55 357.8,434.49 359.2,435.23 360.5,434 361.9,432.94 363.3,434.69 364.7,435.12 366,435.5 367.4,432.99 368.8,435.27 370.2,435.06 371.5,434.5 372.9,431.72 374.3,434.77 375.7,433.2 377,435.5 378.4,435.52 379.8,435.38 381.5,434.5" fill="none" stroke="#000" stroke-width="1.2" stroke-linejoin="miter" stroke-miterlimit="10"/>
<polyline points="202,437.1 208,437.1 214,437.1 220,437.1 226.2,437.1 232.2,437.1 238.3,437.1 244.5,437.1 250.5,437.1 256.5,436.9 262.3,428.6 267.8,405.7 274.9,378.9 281.5,365.5 287.5,364.6 292.9,359.5 298.8,366.5 304.7,369 311,379.3 317.7,390.8 324.3,396.7 330.2,404.8 337,414.9 342.8,413.8 344.3,414.91 345.8,418.15 347.3,418.91 349.1,421.3 350.6,422.22 352.1,419.24 353.6,418.82 354.7,421 355.5,422.3 355.5,411.7 356.3,421 357.8,422.65 359.3,422.61 360.8,427.6 361.9,428.3 363.4,427.38 364.9,427.26 366.4,426.2 367.2,425.5 368.7,427.05 369.6,427 370.4,416.4 371.2,427 372.7,429.46 373.6,430.9 375.1,431.67 376.6,432.18 378.1,432.58 380,431.9 381,430 381.7,408.5 382.4,431" fill="none" stroke="#000" stroke-width="1.2" stroke-linejoin="miter" stroke-miterlimit="10"/>
<polyline points="201,437.1 205.6,436.6 210.6,422.8 216.4,375.1 221.6,329.9 227.1,309.8 231.1,296 236.1,287.7 241.5,283.9 246.8,285.8 251.3,294.5 256.5,308.4 262.1,326.5 266.9,340.8 271.3,368.2 276.8,373.4 281.8,394.7 286.8,405 291.8,412.2 296.6,428.9 302.2,419.7 303.6,419.96 305,419.87 306.4,419.07 307.2,418.9 308.6,420.56 310,424.41 311.4,424.93 312.7,427.4 314.1,424.79 315.5,421.7 316.9,423.44 318.3,421.17 319.7,422.41 320.4,422.4 321.8,423.63 323.2,429.54 324.6,431.15 326,433.78 326.8,436.4 328.2,432.99 329.6,434.96 331,433.65 332.4,431.2 333,434 334.4,434.81 335.8,435.18 337.2,431.98 338.5,436 339.9,435.12 341.3,435.59 342.7,433.35 344,433 345.4,427.34 346.8,429.24 348.2,427.63 349.1,426.2 350.5,423.85 351.9,429.1 353.3,429.15 355,433 356.4,433.03 357.8,431.89 359.2,430.09 360.9,429.8 362.3,430.67 363.7,432.34 365.1,434.45 366,434 367.4,430.38 368.8,427.95 369.4,430.4 370.8,428.21 372.2,433.44 373.6,432.61 374,434 375.4,430.63 376.8,428.6 378.3,425.5 379.7,428.71 381.1,430.98 382,433" fill="none" stroke="#000" stroke-width="1.2" stroke-linejoin="miter" stroke-miterlimit="10"/>
<polyline points="201,437.1 206.5,437.1 212,436.6 217.6,434.1 223.9,426.6 230.2,412.8 235.7,399.5 241.5,390.9 247,386.4 252.8,385.2 258.3,382.7 264.1,391.4 270.3,396.5 275.6,386 277.3,407 280,409.8 286.6,413.5 292.8,420 298.8,422.5 304.5,426.5 310,431.3 315.6,432.7 317.1,432.38 318.6,431.56 320.1,431.4 321.2,431.44 322.7,431.69 324.2,429.07 325.7,431.5 326.8,431.68 328.3,430.98 329.8,432.59 331.3,432.76 332.4,432.49 333.9,431.03 335.4,432.78 336.9,432.03 338,431.45 339.5,430.42 341,431.42 342.5,431.86 343.6,431.85 345.1,429.08 346.6,431.96 348.1,432.29 349.2,432.6 350.7,432.8 352.2,432.48 353.7,432.96 354.8,432.55 356.3,432.05 357.8,432.05 359.3,432.2 360.4,431.81 361.9,431.64 363.4,431.21 364.9,431.32 366,431.56 367.5,432.12 369,430.56 370.5,432.16 371.6,431.94 373.1,431.44 374.6,431.93 376.1,431.99 377.2,432.61" fill="none" stroke="#000" stroke-width="1.2" stroke-linejoin="miter" stroke-miterlimit="10"/>
<polyline points="293.9,413 294.6,404 295.2,394.3 295.7,404 296.2,418" fill="none" stroke="#555" stroke-width="0.8"/>
<circle cx="201" cy="437.1" r="2.55" fill="#fff" stroke="#000" stroke-width="1.1"/>
<circle cx="206.6" cy="437.1" r="2.55" fill="#fff" stroke="#000" stroke-width="1.1"/>
<circle cx="237.2" cy="434.9" r="2.55" fill="#fff" stroke="#000" stroke-width="1.1"/>
<circle cx="244" cy="420.8" r="2.55" fill="#fff" stroke="#000" stroke-width="1.1"/>
<circle cx="249" cy="379.6" r="2.55" fill="#fff" stroke="#000" stroke-width="1.1"/>
<circle cx="255.5" cy="337.2" r="2.55" fill="#fff" stroke="#000" stroke-width="1.1"/>
<circle cx="265.1" cy="315.9" r="2.55" fill="#fff" stroke="#000" stroke-width="1.1"/>
<circle cx="270.9" cy="311.4" r="2.55" fill="#fff" stroke="#000" stroke-width="1.1"/>
<circle cx="276.4" cy="307.1" r="2.55" fill="#fff" stroke="#000" stroke-width="1.1"/>
<circle cx="282.7" cy="309.4" r="2.55" fill="#fff" stroke="#000" stroke-width="1.1"/>
<circle cx="288.2" cy="320.2" r="2.55" fill="#fff" stroke="#000" stroke-width="1.1"/>
<circle cx="294" cy="338.5" r="2.55" fill="#fff" stroke="#000" stroke-width="1.1"/>
<circle cx="299" cy="342.3" r="2.55" fill="#fff" stroke="#000" stroke-width="1.1"/>
<circle cx="304.5" cy="363.5" r="2.55" fill="#fff" stroke="#000" stroke-width="1.1"/>
<circle cx="310.3" cy="374.6" r="2.55" fill="#fff" stroke="#000" stroke-width="1.1"/>
<circle cx="315.6" cy="385.6" r="2.55" fill="#fff" stroke="#000" stroke-width="1.1"/>
<circle cx="321.5" cy="381.5" r="2.55" fill="#fff" stroke="#000" stroke-width="1.1"/>
<circle cx="326.4" cy="406.8" r="2.55" fill="#fff" stroke="#000" stroke-width="1.1"/>
<circle cx="333.1" cy="424.3" r="2.55" fill="#fff" stroke="#000" stroke-width="1.1"/>
<circle cx="338.5" cy="431" r="2.55" fill="#fff" stroke="#000" stroke-width="1.1"/>
<circle cx="343.8" cy="419.1" r="2.55" fill="#fff" stroke="#000" stroke-width="1.1"/>
<circle cx="349.5" cy="432.5" r="2.55" fill="#fff" stroke="#000" stroke-width="1.1"/>
<circle cx="355" cy="435" r="2.55" fill="#fff" stroke="#000" stroke-width="1.1"/>
<circle cx="360.5" cy="434" r="2.55" fill="#fff" stroke="#000" stroke-width="1.1"/>
<circle cx="366" cy="435.5" r="2.55" fill="#fff" stroke="#000" stroke-width="1.1"/>
<circle cx="371.5" cy="434.5" r="2.55" fill="#fff" stroke="#000" stroke-width="1.1"/>
<circle cx="377" cy="435.5" r="2.55" fill="#fff" stroke="#000" stroke-width="1.1"/>
<circle cx="381.5" cy="434.5" r="2.55" fill="#fff" stroke="#000" stroke-width="1.1"/>
<circle cx="202" cy="437.1" r="2.55" fill="#000" stroke="#000" stroke-width="1.1"/>
<circle cx="208" cy="437.1" r="2.55" fill="#000" stroke="#000" stroke-width="1.1"/>
<circle cx="214" cy="437.1" r="2.55" fill="#000" stroke="#000" stroke-width="1.1"/>
<circle cx="220" cy="437.1" r="2.55" fill="#000" stroke="#000" stroke-width="1.1"/>
<circle cx="226.2" cy="437.1" r="2.55" fill="#000" stroke="#000" stroke-width="1.1"/>
<circle cx="232.2" cy="437.1" r="2.55" fill="#000" stroke="#000" stroke-width="1.1"/>
<circle cx="238.3" cy="437.1" r="2.55" fill="#000" stroke="#000" stroke-width="1.1"/>
<circle cx="244.5" cy="437.1" r="2.55" fill="#000" stroke="#000" stroke-width="1.1"/>
<circle cx="250.5" cy="437.1" r="2.55" fill="#000" stroke="#000" stroke-width="1.1"/>
<circle cx="256.5" cy="436.9" r="2.55" fill="#000" stroke="#000" stroke-width="1.1"/>
<circle cx="262.3" cy="428.6" r="2.55" fill="#000" stroke="#000" stroke-width="1.1"/>
<circle cx="267.8" cy="405.7" r="2.55" fill="#000" stroke="#000" stroke-width="1.1"/>
<circle cx="274.9" cy="378.9" r="2.55" fill="#000" stroke="#000" stroke-width="1.1"/>
<circle cx="281.5" cy="365.5" r="2.55" fill="#000" stroke="#000" stroke-width="1.1"/>
<circle cx="287.5" cy="364.6" r="2.55" fill="#000" stroke="#000" stroke-width="1.1"/>
<circle cx="292.9" cy="359.5" r="2.55" fill="#000" stroke="#000" stroke-width="1.1"/>
<circle cx="298.8" cy="366.5" r="2.55" fill="#000" stroke="#000" stroke-width="1.1"/>
<circle cx="304.7" cy="369" r="2.55" fill="#000" stroke="#000" stroke-width="1.1"/>
<circle cx="311" cy="379.3" r="2.55" fill="#000" stroke="#000" stroke-width="1.1"/>
<circle cx="317.7" cy="390.8" r="2.55" fill="#000" stroke="#000" stroke-width="1.1"/>
<circle cx="324.3" cy="396.7" r="2.55" fill="#000" stroke="#000" stroke-width="1.1"/>
<circle cx="330.2" cy="404.8" r="2.55" fill="#000" stroke="#000" stroke-width="1.1"/>
<circle cx="337" cy="414.9" r="2.55" fill="#000" stroke="#000" stroke-width="1.1"/>
<circle cx="342.8" cy="413.8" r="2.55" fill="#000" stroke="#000" stroke-width="1.1"/>
<circle cx="349.1" cy="421.3" r="2.55" fill="#000" stroke="#000" stroke-width="1.1"/>
<circle cx="355.5" cy="422.3" r="2.55" fill="#000" stroke="#000" stroke-width="1.1"/>
<circle cx="361.9" cy="428.3" r="2.55" fill="#000" stroke="#000" stroke-width="1.1"/>
<circle cx="367.2" cy="425.5" r="2.55" fill="#000" stroke="#000" stroke-width="1.1"/>
<circle cx="373.6" cy="430.9" r="2.55" fill="#000" stroke="#000" stroke-width="1.1"/>
<circle cx="380" cy="431.9" r="2.55" fill="#000" stroke="#000" stroke-width="1.1"/>
<rect x="198.6" y="434.7" width="4.8" height="4.8" fill="#fff" stroke="#000" stroke-width="1.2"/>
<rect x="203.2" y="434.2" width="4.8" height="4.8" fill="#fff" stroke="#000" stroke-width="1.2"/>
<rect x="208.2" y="420.4" width="4.8" height="4.8" fill="#fff" stroke="#000" stroke-width="1.2"/>
<rect x="214" y="372.7" width="4.8" height="4.8" fill="#fff" stroke="#000" stroke-width="1.2"/>
<rect x="219.2" y="327.5" width="4.8" height="4.8" fill="#fff" stroke="#000" stroke-width="1.2"/>
<rect x="224.7" y="307.4" width="4.8" height="4.8" fill="#fff" stroke="#000" stroke-width="1.2"/>
<rect x="228.7" y="293.6" width="4.8" height="4.8" fill="#fff" stroke="#000" stroke-width="1.2"/>
<rect x="233.7" y="285.3" width="4.8" height="4.8" fill="#fff" stroke="#000" stroke-width="1.2"/>
<rect x="239.1" y="281.5" width="4.8" height="4.8" fill="#fff" stroke="#000" stroke-width="1.2"/>
<rect x="244.4" y="283.4" width="4.8" height="4.8" fill="#fff" stroke="#000" stroke-width="1.2"/>
<rect x="248.9" y="292.1" width="4.8" height="4.8" fill="#fff" stroke="#000" stroke-width="1.2"/>
<rect x="254.1" y="306" width="4.8" height="4.8" fill="#fff" stroke="#000" stroke-width="1.2"/>
<rect x="259.7" y="324.1" width="4.8" height="4.8" fill="#fff" stroke="#000" stroke-width="1.2"/>
<rect x="264.5" y="338.4" width="4.8" height="4.8" fill="#fff" stroke="#000" stroke-width="1.2"/>
<rect x="268.9" y="365.8" width="4.8" height="4.8" fill="#fff" stroke="#000" stroke-width="1.2"/>
<rect x="274.4" y="371" width="4.8" height="4.8" fill="#fff" stroke="#000" stroke-width="1.2"/>
<rect x="279.4" y="392.3" width="4.8" height="4.8" fill="#fff" stroke="#000" stroke-width="1.2"/>
<rect x="284.4" y="402.6" width="4.8" height="4.8" fill="#fff" stroke="#000" stroke-width="1.2"/>
<rect x="289.4" y="409.8" width="4.8" height="4.8" fill="#fff" stroke="#000" stroke-width="1.2"/>
<rect x="294.2" y="426.5" width="4.8" height="4.8" fill="#fff" stroke="#000" stroke-width="1.2"/>
<rect x="299.8" y="417.3" width="4.8" height="4.8" fill="#fff" stroke="#000" stroke-width="1.2"/>
<rect x="304.8" y="416.5" width="4.8" height="4.8" fill="#fff" stroke="#000" stroke-width="1.2"/>
<rect x="310.3" y="425" width="4.8" height="4.8" fill="#fff" stroke="#000" stroke-width="1.2"/>
<rect x="318" y="420" width="4.8" height="4.8" fill="#fff" stroke="#000" stroke-width="1.2"/>
<rect x="324.4" y="434" width="4.8" height="4.8" fill="#fff" stroke="#000" stroke-width="1.2"/>
<rect x="330.6" y="431.6" width="4.8" height="4.8" fill="#fff" stroke="#000" stroke-width="1.2"/>
<rect x="336.1" y="433.6" width="4.8" height="4.8" fill="#fff" stroke="#000" stroke-width="1.2"/>
<rect x="341.6" y="430.6" width="4.8" height="4.8" fill="#fff" stroke="#000" stroke-width="1.2"/>
<rect x="346.7" y="423.8" width="4.8" height="4.8" fill="#fff" stroke="#000" stroke-width="1.2"/>
<rect x="352.6" y="430.6" width="4.8" height="4.8" fill="#fff" stroke="#000" stroke-width="1.2"/>
<rect x="358.5" y="427.4" width="4.8" height="4.8" fill="#fff" stroke="#000" stroke-width="1.2"/>
<rect x="363.6" y="431.6" width="4.8" height="4.8" fill="#fff" stroke="#000" stroke-width="1.2"/>
<rect x="367" y="428" width="4.8" height="4.8" fill="#fff" stroke="#000" stroke-width="1.2"/>
<rect x="371.6" y="431.6" width="4.8" height="4.8" fill="#fff" stroke="#000" stroke-width="1.2"/>
<rect x="375.9" y="423.1" width="4.8" height="4.8" fill="#fff" stroke="#000" stroke-width="1.2"/>
<rect x="379.6" y="430.6" width="4.8" height="4.8" fill="#fff" stroke="#000" stroke-width="1.2"/>
<rect x="198.6" y="434.7" width="4.8" height="4.8" fill="#000" stroke="#000" stroke-width="1.2"/>
<rect x="204.1" y="434.7" width="4.8" height="4.8" fill="#000" stroke="#000" stroke-width="1.2"/>
<rect x="209.6" y="434.2" width="4.8" height="4.8" fill="#000" stroke="#000" stroke-width="1.2"/>
<rect x="215.2" y="431.7" width="4.8" height="4.8" fill="#000" stroke="#000" stroke-width="1.2"/>
<rect x="221.5" y="424.2" width="4.8" height="4.8" fill="#000" stroke="#000" stroke-width="1.2"/>
<rect x="227.8" y="410.4" width="4.8" height="4.8" fill="#000" stroke="#000" stroke-width="1.2"/>
<rect x="233.3" y="397.1" width="4.8" height="4.8" fill="#000" stroke="#000" stroke-width="1.2"/>
<rect x="239.1" y="388.5" width="4.8" height="4.8" fill="#000" stroke="#000" stroke-width="1.2"/>
<rect x="244.6" y="384" width="4.8" height="4.8" fill="#000" stroke="#000" stroke-width="1.2"/>
<rect x="250.4" y="382.8" width="4.8" height="4.8" fill="#000" stroke="#000" stroke-width="1.2"/>
<rect x="255.9" y="380.3" width="4.8" height="4.8" fill="#000" stroke="#000" stroke-width="1.2"/>
<rect x="261.7" y="389" width="4.8" height="4.8" fill="#000" stroke="#000" stroke-width="1.2"/>
<rect x="267.9" y="394.1" width="4.8" height="4.8" fill="#000" stroke="#000" stroke-width="1.2"/>
<rect x="273.2" y="383.6" width="4.8" height="4.8" fill="#000" stroke="#000" stroke-width="1.2"/>
<rect x="277.6" y="407.4" width="4.8" height="4.8" fill="#000" stroke="#000" stroke-width="1.2"/>
<rect x="284.2" y="411.1" width="4.8" height="4.8" fill="#000" stroke="#000" stroke-width="1.2"/>
<rect x="290.4" y="417.6" width="4.8" height="4.8" fill="#000" stroke="#000" stroke-width="1.2"/>
<rect x="296.4" y="420.1" width="4.8" height="4.8" fill="#000" stroke="#000" stroke-width="1.2"/>
<rect x="302.1" y="424.1" width="4.8" height="4.8" fill="#000" stroke="#000" stroke-width="1.2"/>
<rect x="307.6" y="428.9" width="4.8" height="4.8" fill="#000" stroke="#000" stroke-width="1.2"/>
<rect x="313.2" y="430.3" width="4.8" height="4.8" fill="#000" stroke="#000" stroke-width="1.2"/>
<rect x="318.8" y="429.04" width="4.8" height="4.8" fill="#000" stroke="#000" stroke-width="1.2"/>
<rect x="324.4" y="429.28" width="4.8" height="4.8" fill="#000" stroke="#000" stroke-width="1.2"/>
<rect x="330" y="430.09" width="4.8" height="4.8" fill="#000" stroke="#000" stroke-width="1.2"/>
<rect x="335.6" y="429.05" width="4.8" height="4.8" fill="#000" stroke="#000" stroke-width="1.2"/>
<rect x="341.2" y="429.45" width="4.8" height="4.8" fill="#000" stroke="#000" stroke-width="1.2"/>
<rect x="346.8" y="430.2" width="4.8" height="4.8" fill="#000" stroke="#000" stroke-width="1.2"/>
<rect x="352.4" y="430.15" width="4.8" height="4.8" fill="#000" stroke="#000" stroke-width="1.2"/>
<rect x="358" y="429.41" width="4.8" height="4.8" fill="#000" stroke="#000" stroke-width="1.2"/>
<rect x="363.6" y="429.16" width="4.8" height="4.8" fill="#000" stroke="#000" stroke-width="1.2"/>
<rect x="369.2" y="429.54" width="4.8" height="4.8" fill="#000" stroke="#000" stroke-width="1.2"/>
<rect x="374.8" y="430.21" width="4.8" height="4.8" fill="#000" stroke="#000" stroke-width="1.2"/>
<circle cx="237.2" cy="435.6" r="2.55" fill="#fff" stroke="#000" stroke-width="1.1"/>
<text x="0.6" y="13.9" font-family='"Liberation Sans", sans-serif' font-size="16" font-weight="bold">A</text>
<text x="141" y="258.3" font-family='"Liberation Sans", sans-serif' font-size="16" font-weight="bold">B</text>
</svg>
</body></html>
